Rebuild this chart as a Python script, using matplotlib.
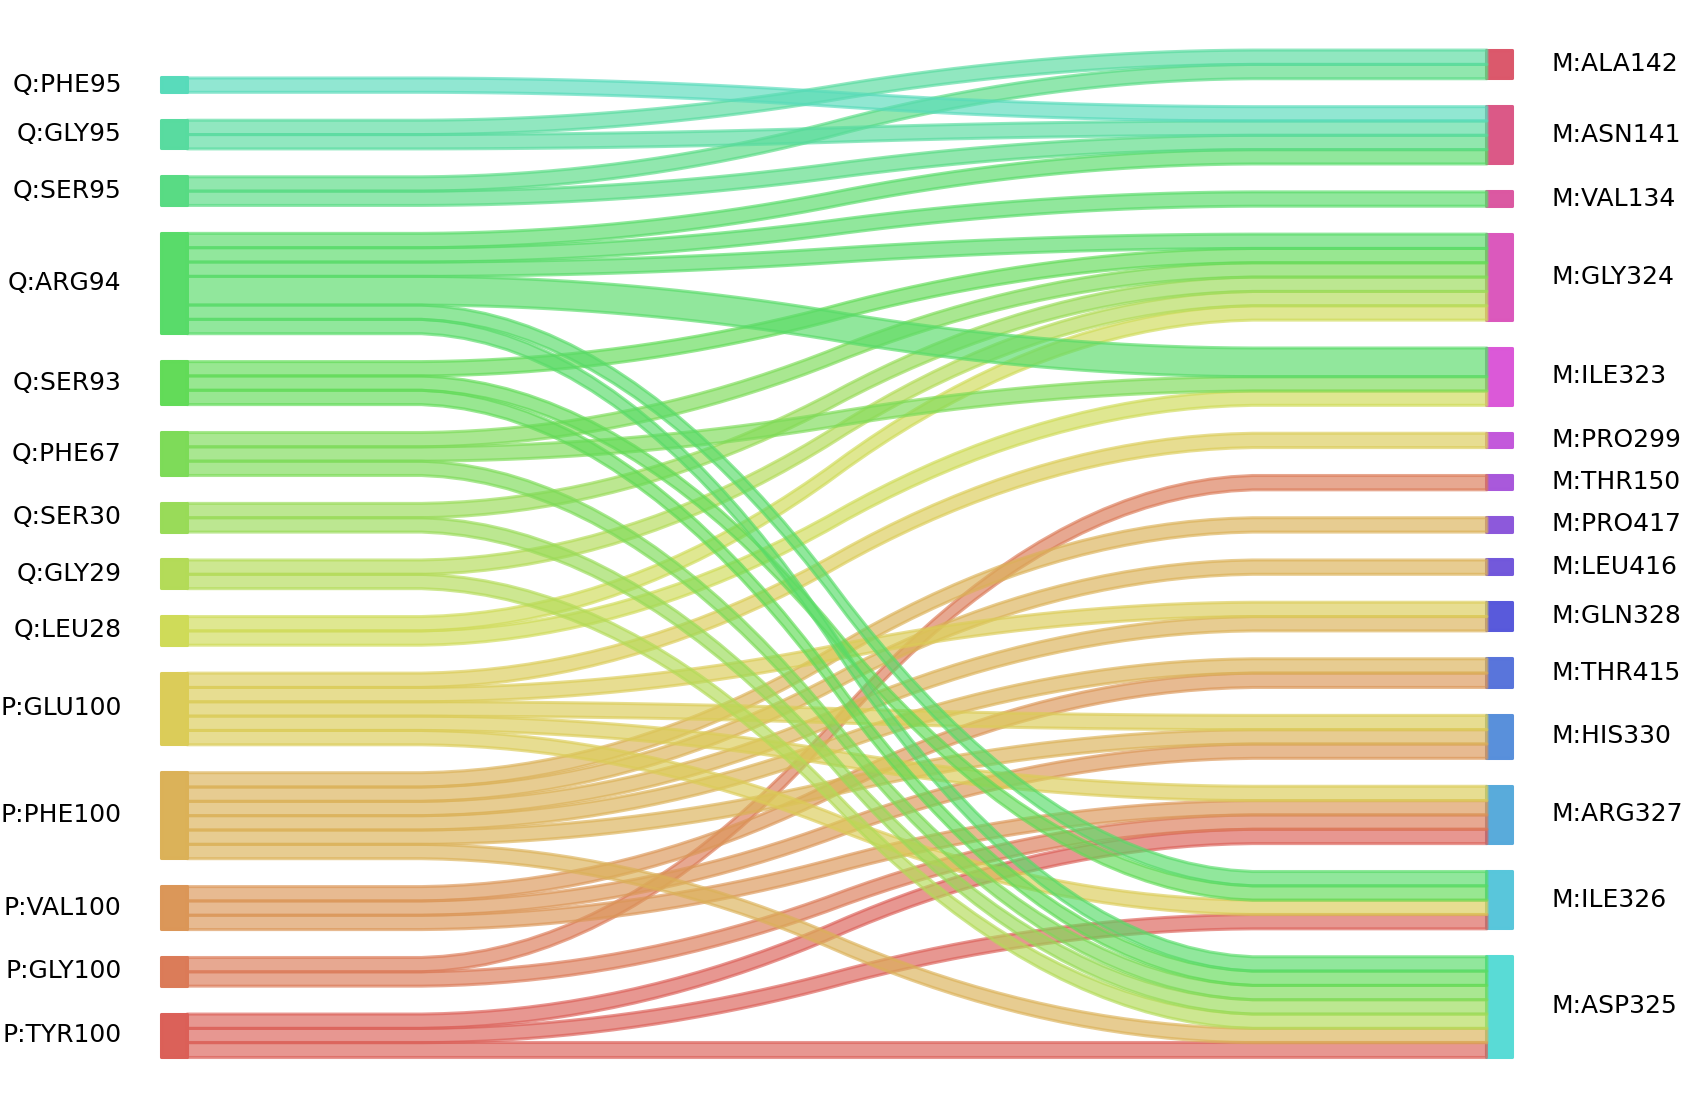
import numpy as np
import matplotlib
matplotlib.use("Agg")
import matplotlib.pyplot as plt
import colorsys

# node labels, listed bottom -> top
left_labels = ["P:TYR100", "P:GLY100", "P:VAL100", "P:PHE100", "P:GLU100",
               "Q:LEU28", "Q:GLY29", "Q:SER30", "Q:PHE67", "Q:SER93",
               "Q:ARG94", "Q:SER95", "Q:GLY95", "Q:PHE95"]
right_labels = ["M:ASP325", "M:ILE326", "M:ARG327", "M:HIS330", "M:THR415",
                "M:GLN328", "M:LEU416", "M:PRO417", "M:THR150", "M:PRO299",
                "M:ILE323", "M:GLY324", "M:VAL134", "M:ASN141", "M:ALA142"]

# flows
flow_source = ["P:TYR100", "P:TYR100", "P:TYR100",
               "P:GLY100", "P:GLY100",
               "P:VAL100", "P:VAL100", "P:VAL100",
               "P:PHE100", "P:PHE100", "P:PHE100", "P:PHE100", "P:PHE100", "P:PHE100",
               "P:GLU100", "P:GLU100", "P:GLU100", "P:GLU100", "P:GLU100",
               "Q:LEU28", "Q:LEU28",
               "Q:GLY29", "Q:GLY29",
               "Q:SER30", "Q:SER30",
               "Q:PHE67", "Q:PHE67", "Q:PHE67",
               "Q:SER93", "Q:SER93", "Q:SER93",
               "Q:ARG94", "Q:ARG94", "Q:ARG94", "Q:ARG94", "Q:ARG94", "Q:ARG94",
               "Q:SER95", "Q:SER95",
               "Q:GLY95", "Q:GLY95",
               "Q:PHE95"]
flow_target = ["M:ASP325", "M:ILE326", "M:ARG327",
               "M:ARG327", "M:THR150",
               "M:ARG327", "M:HIS330", "M:THR415",
               "M:ASP325", "M:HIS330", "M:THR415", "M:GLN328", "M:LEU416", "M:PRO417",
               "M:ILE326", "M:ARG327", "M:HIS330", "M:GLN328", "M:PRO299",
               "M:ILE323", "M:GLY324",
               "M:ASP325", "M:GLY324",
               "M:ASP325", "M:GLY324",
               "M:ASP325", "M:ILE323", "M:GLY324",
               "M:ASP325", "M:ILE326", "M:GLY324",
               "M:ASP325", "M:ILE326", "M:ILE323", "M:GLY324", "M:VAL134", "M:ASN141",
               "M:ASN141", "M:ALA142",
               "M:ASN141", "M:ALA142",
               "M:ASN141"]
flow_weight = [1, 1, 1,
               1, 1,
               1, 1, 1,
               1, 1, 1, 1, 1, 1,
               1, 1, 1, 1, 1,
               1, 1,
               1, 1,
               1, 1,
               1, 1, 1,
               1, 1, 1,
               1, 1, 2, 1, 1, 1,
               1, 1,
               1, 1,
               1]

# colours (hls palette over all labels)
all_labels = left_labels + right_labels
n = len(all_labels)
hues = (np.linspace(0, 1, n + 1)[:-1] + 0.01) % 1
colors = {lab: colorsys.hls_to_rgb(h, 0.6, 0.65) for lab, h in zip(all_labels, hues)}

# weights matrix
W = {}
for s, t, w in zip(flow_source, flow_target, flow_weight):
    W[(s, t)] = W.get((s, t), 0) + w
total = sum(flow_weight)
gap = 0.0453 * total

def stack(labels, side):
    out = {}
    cur = 0.0
    for i, lab in enumerate(labels):
        size = sum(w for (s, t), w in W.items() if (s if side == 0 else t) == lab)
        if i > 0:
            cur += gap
        out[lab] = [cur, cur + size]
        cur += size
    return out

lpos = stack(left_labels, 0)
rpos = stack(right_labels, 1)

fig = plt.figure(figsize=(16.83, 11.08), dpi=100)
ax = fig.add_axes([0, 0, 1, 1])
ax.set_xlim(-0.14365, 1.15127)
ax.set_ylim(-3.59, 73.73)
ax.axis("off")

LW = 2.2
FS = 18
for lab in left_labels:
    b, t = lpos[lab]
    ax.fill_between([-0.02, 0], [b, b], [t, t], facecolor=colors[lab],
                    edgecolor=colors[lab], alpha=0.99, lw=LW)
    ax.text(-0.05, (b + t) / 2, lab, ha="right", va="center", fontsize=FS)
for lab in right_labels:
    b, t = rpos[lab]
    ax.fill_between([1, 1.02], [b, b], [t, t], facecolor=colors[lab],
                    edgecolor=colors[lab], alpha=0.99, lw=LW)
    ax.text(1.05, (b + t) / 2, lab, ha="left", va="center", fontsize=FS)

lcur = {lab: lpos[lab][0] for lab in left_labels}
rcur = {lab: rpos[lab][0] for lab in right_labels}
kern = 0.05 * np.ones(20)
for ll in left_labels:
    for rl in right_labels:
        w = W.get((ll, rl), 0)
        if w <= 0:
            continue
        yd = np.array(50 * [lcur[ll]] + 50 * [rcur[rl]])
        yd = np.convolve(np.convolve(yd, kern, mode="valid"), kern, mode="valid")
        yu = np.array(50 * [lcur[ll] + w] + 50 * [rcur[rl] + w])
        yu = np.convolve(np.convolve(yu, kern, mode="valid"), kern, mode="valid")
        xs = np.linspace(0, 1, len(yd))
        ax.fill_between(xs, yd, yu, facecolor=colors[ll], edgecolor=colors[ll],
                        alpha=0.65, lw=LW)
        lcur[ll] += w
        rcur[rl] += w

fig.savefig("out.png", dpi=100)
